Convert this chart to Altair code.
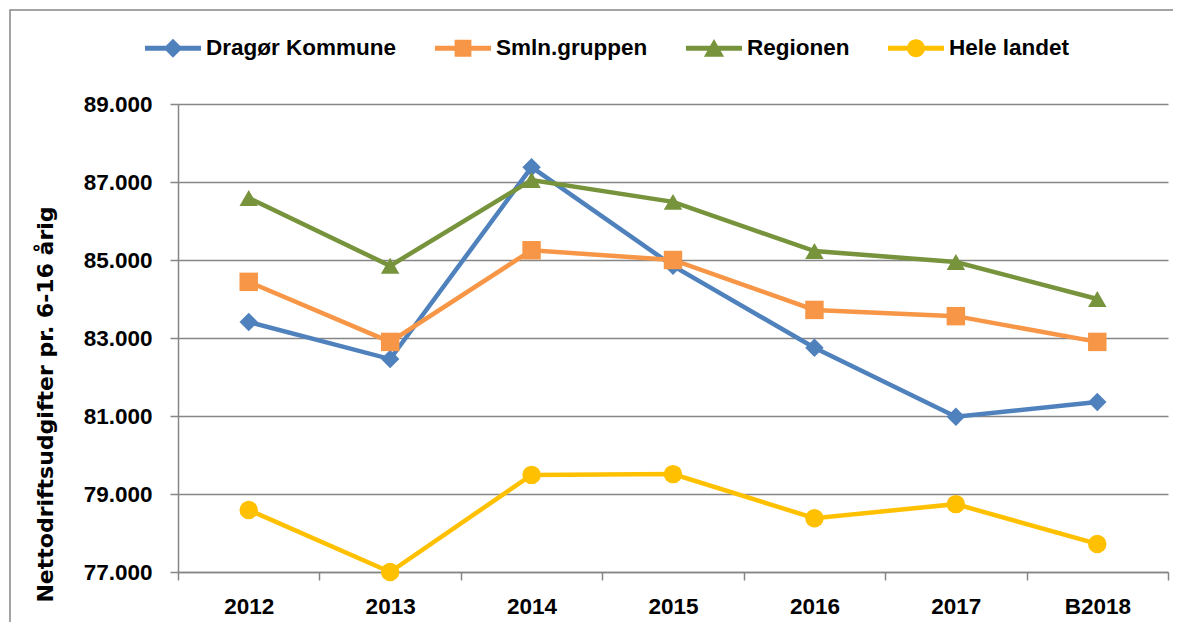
import altair as alt
import pandas as pd

years = ["2012", "2013", "2014", "2015", "2016", "2017", "B2018"]
series_names = ["Dragør Kommune", "Smln.gruppen", "Regionen", "Hele landet"]
dragor = [83410, 82460, 87380, 84850, 82750, 80980, 81360]
smln = [84440, 82900, 85250, 85000, 83720, 83560, 82900]
regionen = [86590, 84850, 87050, 86490, 85230, 84950, 84000]
hele = [78590, 77000, 79490, 79510, 78380, 78740, 77720]
colors = ["#4F81BD", "#F79646", "#77933C", "#FFC000"]
shapes = ["diamond", "square", "triangle-up", "circle"]
y_ticks = [77000, 79000, 81000, 83000, 85000, 87000, 89000]
y_title = "Nettodriftsudgifter pr. 6-16 årig"

rows = []
for name, vals in zip(series_names, [dragor, smln, regionen, hele]):
    for yr, v in zip(years, vals):
        rows.append({"year": yr, "series": name, "value": v})
df = pd.DataFrame(rows)

FONT = "Liberation Sans"
GRAY = "#868686"

bar = "M-1,-0.085H1V0.085H-1Z "
legend_paths = [
    bar + "M0,-0.34L0.34,0L0,0.34L-0.34,0Z",
    bar + "M-0.3,-0.3H0.3V0.3H-0.3Z",
    bar + "M0,-0.33L0.36,0.3H-0.36Z",
    bar + "M0.32,0A0.32,0.32,0,1,1,-0.32,0A0.32,0.32,0,1,1,0.32,0Z",
]

x_enc = alt.X(
    "year:N", sort=years, bandPosition=0.5,
    scale=alt.Scale(type="band", paddingInner=0, paddingOuter=0),
    axis=alt.Axis(title=None, tickBand="extent", labelAngle=0, tickSize=8,
                  labelPadding=15, labelFontSize=22.5, labelFont=FONT,
                  labelFontWeight="bold", labelColor="black", grid=False),
)
y_enc = alt.Y(
    "value:Q",
    scale=alt.Scale(domain=[77000, 89000], nice=False, zero=False),
    axis=alt.Axis(values=y_ticks, grid=True, tickSize=8, labelPadding=18,
                  labelExpr="replace(format(datum.value, ','), ',', '.')",
                  labelFontSize=22.5, labelFont=FONT, labelFontWeight="bold",
                  labelColor="black",
                  title=y_title, titleFont="DejaVu Sans", titleFontSize=22,
                  titleFontWeight="bold", titleColor="black",
                  titleX=-133, titleY=300, titleAngle=270,
                  titleAlign="center", titleBaseline="middle"),
)

color_scale = alt.Scale(domain=series_names, range=colors)

border = alt.Chart(alt.Data(values=[{}])).mark_rect(
    fillOpacity=0, stroke=GRAY, strokeWidth=1.5
).encode(
    x=alt.value(-168), x2=alt.value(1010), y=alt.value(-94), y2=alt.value(700)
)

lines = alt.Chart(df).mark_line(strokeWidth=4.5).encode(
    x=x_enc, y=y_enc,
    color=alt.Color("series:N", scale=color_scale, legend=None),
    detail="series:N",
)

points = alt.Chart(df).mark_point(filled=True, opacity=1, size=340).encode(
    x=x_enc, y=y_enc,
    color=alt.Color("series:N", scale=color_scale, legend=None),
    shape=alt.Shape("series:N", scale=alt.Scale(domain=series_names, range=shapes), legend=None),
)

leg = dict(title=None, orient="none", legendX=-33, legendY=-84, direction="horizontal",
           columns=4, symbolSize=3136, symbolStrokeWidth=0, labelOffset=5,
           columnPadding=38, labelFont=FONT, labelFontSize=22.5, labelLimit=0,
           labelFontWeight="bold", labelColor="black", symbolOpacity=1)

legend_layer = alt.Chart(df).transform_filter("false").mark_point(filled=True, opacity=1).encode(
    color=alt.Color("series:N", scale=color_scale, legend=alt.Legend(**leg)),
    shape=alt.Shape("series:N", scale=alt.Scale(domain=series_names, range=legend_paths),
                    legend=alt.Legend(**leg)),
)

chart = alt.layer(border, lines, points, legend_layer).resolve_scale(
    color="independent", shape="independent"
).properties(
    width=990, height=468,
    padding={"left": 170, "top": 96, "right": 5, "bottom": 50},
    autosize=alt.AutoSizeParams(type="none"),
).configure_view(stroke=None).configure_axis(
    domainColor=GRAY, tickColor=GRAY, gridColor=GRAY,
    domainWidth=1.5, tickWidth=1.5, gridWidth=1.5,
)

chart.save("out.html", embed_options={"renderer": "svg", "actions": False})
